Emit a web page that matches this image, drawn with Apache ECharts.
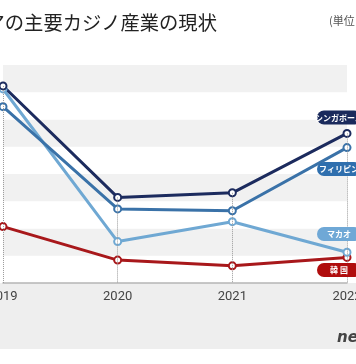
<!DOCTYPE html>
<html>
<head>
<meta charset="utf-8">
<script src="https://cdn.jsdelivr.net/npm/echarts@6/dist/echarts.min.js"></script>
<style>
html,body{margin:0;padding:0;background:#fff;}
#c{width:356px;height:364px;}
</style>
</head>
<body>
<div id="c"></div>
<script>
const categories = ['2019', '2020', '2021', '2022'];
const singapore = [7.23, 3.14, 3.31, 5.49];
const philippines = [6.47, 2.72, 2.65, 4.97];
const macau = [7.12, 1.52, 2.25, 1.13];
const korea = [2.07, 0.84, 0.63, 0.94];
const seriesNames = ['シンガポール', 'フィリピン', 'マカオ', '韓 国'];
const titleText = 'アジアの主要カジノ産業の現状';
const unitText = '(単位：億ドル)';

const colors = ['#1c2b5e', '#3a72a8', '#6fa8d3', '#a8181b'];
const pillColors = ['#1a2a5c', '#2f6fae', '#6fa8d6', '#b00d0d'];

const chart = echarts.init(document.getElementById('c'), null, {renderer: 'canvas'});

function lineSeries(name, data, color) {
  return {
    name: name,
    type: 'line',
    data: data,
    z: 3,
    symbol: 'circle',
    symbolSize: 7,
    lineStyle: {color: color, width: 3},
    itemStyle: {color: '#ffffff', borderColor: color, borderWidth: 2},
    emphasis: {disabled: true},
    animation: false
  };
}

const pillY = [117.5, 169, 234, 270];
const graphics = [
  {type: 'rect', z: -10, shape: {x: 0, y: 283, width: 356, height: 66}, style: {fill: '#eeeeee'}},
  {type: 'text', x: -53, y: 23, style: {text: titleText, font: '19.3px "Noto Sans CJK JP"', fill: '#222', verticalAlign: 'middle'}},
  {type: 'text', x: 329, y: 21, style: {text: unitText, font: '11px "Noto Sans CJK JP"', fill: '#555', verticalAlign: 'middle'}},
  {type: 'text', x: 337, y: 338, style: {text: 'newsis', font: 'italic bold 15px "DejaVu Sans"', fill: '#444', verticalAlign: 'middle'}}
];
seriesNames.forEach(function (n, i) {
  graphics.push({type: 'rect', z: 20, shape: {x: 317, y: pillY[i] - 7, width: 44, height: 14, r: 7}, style: {fill: pillColors[i]}});
  graphics.push({type: 'text', z: 21, x: 339, y: pillY[i], style: {text: n, font: 'bold 8px "Noto Sans CJK JP"', fill: '#fff', align: 'center', verticalAlign: 'middle'}});
});

chart.setOption({
  animation: false,
  backgroundColor: '#ffffff',
  grid: {left: 3, right: 9, top: 65, bottom: 81, containLabel: false, outerBoundsMode: 'none'},
  xAxis: {
    type: 'category',
    data: categories,
    boundaryGap: false,
    axisLine: {lineStyle: {color: '#b5b5b5', width: 1.5}},
    axisTick: {show: false},
    axisLabel: {color: '#444', fontSize: 13, fontFamily: 'Roboto', margin: 7}
  },
  yAxis: {
    type: 'value',
    min: 0, max: 8, interval: 1,
    axisLine: {show: false},
    axisTick: {show: false},
    axisLabel: {show: false},
    splitLine: {show: false},
    splitArea: {show: true, areaStyle: {color: ['#ffffff', '#f1f1f1']}}
  },
  series: [
    {
      type: 'line',
      data: [],
      z: 1,
      silent: true,
      markLine: {
        silent: true,
        symbol: 'none',
        label: {show: false},
        lineStyle: {color: '#9a9a9a', type: 'dotted', width: 1},
        data: categories.map(function (c, i) {
          return [{coord: [c, singapore[i]]}, {coord: [c, 0]}];
        })
      }
    },
    lineSeries(seriesNames[3], korea, colors[3]),
    lineSeries(seriesNames[2], macau, colors[2]),
    lineSeries(seriesNames[1], philippines, colors[1]),
    lineSeries(seriesNames[0], singapore, colors[0])
  ],
  graphic: graphics
});
</script>
</body>
</html>
